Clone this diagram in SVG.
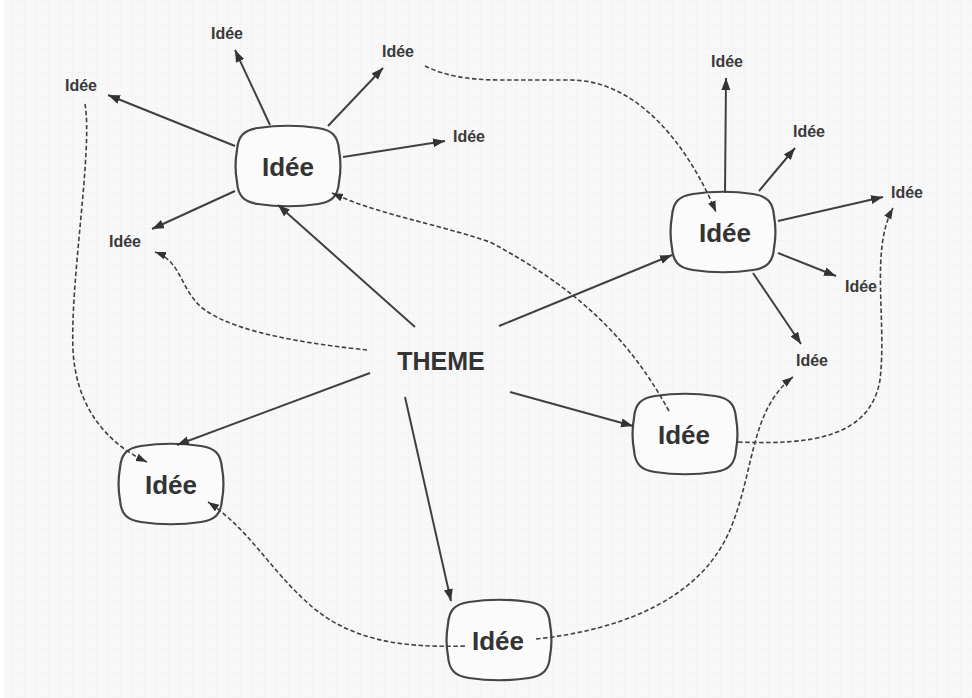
<svg xmlns="http://www.w3.org/2000/svg" width="972" height="698" viewBox="0 0 972 698">
  <style>
    .node { fill: #fbfbfb; stroke: #454545; stroke-width: 2.2; }
    .big { font-family: "Liberation Sans", Arial, sans-serif; font-weight: bold; font-size: 26px; fill: #333; text-anchor: middle; }
    .small { font-family: "Liberation Sans", Arial, sans-serif; font-weight: bold; font-size: 16px; fill: #3a3a3a; text-anchor: middle; }
    .theme { font-family: "Liberation Sans", Arial, sans-serif; font-weight: bold; font-size: 25px; fill: #333; text-anchor: middle; }
    .solid { fill: none; stroke: #404040; stroke-width: 2; marker-end: url(#arrow); }
    .dash { fill: none; stroke: #404040; stroke-width: 1.6; stroke-dasharray: 4.5 2.5; marker-end: url(#arrowS); }
  </style>
  <defs>
    <pattern id="grid" width="12" height="12" patternUnits="userSpaceOnUse">
      <path d="M12,0 L0,0 0,12" fill="none" stroke="#f0f0f0" stroke-width="1"/>
    </pattern>
    <marker id="arrow" markerUnits="userSpaceOnUse" markerWidth="13" markerHeight="10" refX="12" refY="4.5" orient="auto">
      <path d="M0,0 L12,4.5 L0,9 z" fill="#333"/>
    </marker>
    <marker id="arrowS" markerUnits="userSpaceOnUse" markerWidth="12" markerHeight="10" refX="11" refY="4" orient="auto">
      <path d="M0,0 L11,4 L0,8 z" fill="#333"/>
    </marker>
    <!-- bulging rounded box used by every idea node -->
    <path id="blob" d="M-30,-38 C-10,-41 10,-41 30,-38 C44,-36 50,-30 51,-16 C53,-5 53,5 51,16 C50,30 44,36 30,38 C10,41 -10,41 -30,38 C-44,36 -50,30 -51,16 C-53,5 -53,-5 -51,-16 C-50,-30 -44,-36 -30,-38 Z"/>
  </defs>

  <rect width="972" height="698" fill="#f8f8f8"/>
  <rect width="972" height="698" fill="url(#grid)"/>
  <rect width="4" height="698" fill="#ffffff"/>

  <!-- nodes -->
  <g id="theme">
    <text class="theme" x="441" y="370">THEME</text>
  </g>
  <g id="idea-top-left">
    <use href="#blob" class="node" transform="translate(288,166)"/>
    <text class="big" x="288" y="176">Idée</text>
  </g>
  <g id="idea-top-right">
    <use href="#blob" class="node" transform="translate(723,232)"/>
    <text class="big" x="725" y="242">Idée</text>
  </g>
  <g id="idea-right">
    <use href="#blob" class="node" transform="translate(685,434)"/>
    <text class="big" x="684" y="444">Idée</text>
  </g>
  <g id="idea-left">
    <use href="#blob" class="node" transform="translate(171,484)"/>
    <text class="big" x="171" y="494">Idée</text>
  </g>
  <g id="idea-bottom">
    <use href="#blob" class="node" transform="translate(499,640)"/>
    <text class="big" x="498" y="650">Idée</text>
  </g>

  <!-- leaf ideas -->
  <g id="leaf-1"><text class="small" x="227" y="39">Idée</text></g>
  <g id="leaf-2"><text class="small" x="398" y="57">Idée</text></g>
  <g id="leaf-3"><text class="small" x="81" y="91">Idée</text></g>
  <g id="leaf-4"><text class="small" x="469" y="142">Idée</text></g>
  <g id="leaf-5"><text class="small" x="125" y="247">Idée</text></g>
  <g id="leaf-6"><text class="small" x="727" y="67">Idée</text></g>
  <g id="leaf-7"><text class="small" x="809" y="137">Idée</text></g>
  <g id="leaf-8"><text class="small" x="907" y="198">Idée</text></g>
  <g id="leaf-9"><text class="small" x="861" y="292">Idée</text></g>
  <g id="leaf-10"><text class="small" x="812" y="366">Idée</text></g>

  <!-- connectors -->
  <g id="connectors">
    <!-- from THEME -->
    <line class="solid" x1="415" y1="327" x2="278" y2="205"/>
    <line class="solid" x1="499" y1="326" x2="672" y2="255"/>
    <line class="solid" x1="510" y1="392" x2="633" y2="426"/>
    <line class="solid" x1="370" y1="373" x2="177" y2="445"/>
    <line class="solid" x1="405" y1="397" x2="451" y2="601"/>

    <!-- around the top-left idea -->
    <line class="solid" x1="270" y1="125" x2="235" y2="50"/>
    <line class="solid" x1="328" y1="126" x2="383" y2="68"/>
    <line class="solid" x1="235" y1="146" x2="108" y2="95"/>
    <line class="solid" x1="343" y1="157" x2="445" y2="141"/>
    <line class="solid" x1="235" y1="191" x2="152" y2="229"/>

    <!-- around the top-right idea -->
    <line class="solid" x1="725" y1="193" x2="726" y2="78"/>
    <line class="solid" x1="759" y1="191" x2="795" y2="148"/>
    <line class="solid" x1="778" y1="221" x2="883" y2="197"/>
    <line class="solid" x1="778" y1="253" x2="836" y2="276"/>
    <line class="solid" x1="753" y1="273" x2="801" y2="344"/>

    <!-- dashed cross links -->
    <path class="dash" d="M425,66 C445,76 470,80 500,80 L570,80 C640,80 690,150 716,212"/>
    <path class="dash" d="M85,104 C93,150 70,280 73,350 C76,410 110,445 147,462"/>
    <path class="dash" d="M367,350 C320,345 240,335 205,310 C180,292 183,262 155,252"/>
    <path class="dash" d="M669,411 C630,340 580,290 490,242 C430,222 380,215 332,193"/>
    <path class="dash" d="M738,442 C810,445 870,438 880,380 C887,320 870,250 893,208"/>
    <path class="dash" d="M536,639 C620,630 700,600 730,530 C755,470 750,410 793,377"/>
    <path class="dash" d="M465,646 C400,648 350,640 310,605 C270,570 250,530 208,502"/>
  </g>
</svg>
